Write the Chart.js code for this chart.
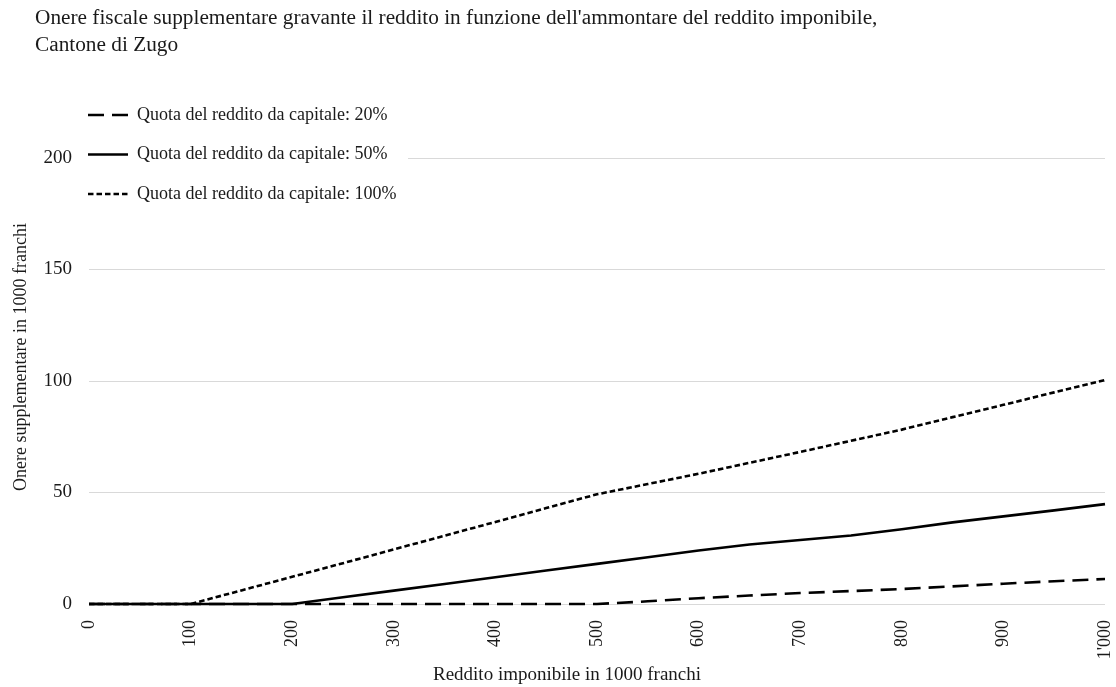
<!DOCTYPE html>
<html>
<head>
<meta charset="utf-8">
<script src="https://cdn.jsdelivr.net/npm/chart.js@4/dist/chart.umd.min.js"></script>
<style>
  html, body { margin: 0; padding: 0; background: #ffffff; }
  #wrap { width: 1116px; height: 687px; }
</style>
</head>
<body>
<div id="wrap"><canvas id="chart" width="1116" height="687"></canvas></div>
<script>
// Texts
const titleLines = [
  "Onere fiscale supplementare gravante il reddito in funzione dell'ammontare del reddito imponibile,",
  "Cantone di Zugo"
];
const xAxisTitle = "Reddito imponibile in 1000 franchi";
const yAxisTitle = "Onere supplementare in 1000 franchi";
const seriesLabels = [
  "Quota del reddito da capitale: 20%",
  "Quota del reddito da capitale: 50%",
  "Quota del reddito da capitale: 100%"
];

// Taxable income (1000 CHF)
const incomes = [0, 50, 100, 150, 200, 250, 300, 350, 400, 450, 500, 550, 600, 650, 700, 750, 800, 850, 900, 950, 1000];
// Additional tax burden (1000 CHF) by share of capital income
const share20  = [0, 0, 0, 0, 0, 0, 0, 0, 0, 0, 0, 1.2, 2.6, 3.8, 4.9, 5.8, 6.7, 7.9, 9.1, 10.2, 11.2];
const share50  = [0, 0, 0, 0, 0, 3, 6, 9, 12, 15, 18, 21, 24, 26.7, 28.7, 30.7, 33.5, 36.6, 39.3, 42, 44.8];
const share100 = [0, 0, 0, 6.1, 12.2, 18.3, 24.5, 30.6, 36.8, 43, 49.2, 53.8, 58.4, 63.3, 68.2, 73.2, 78.2, 83.8, 89.3, 94.9, 100.4];

// Axis ticks
const xTickValues = [0, 100, 200, 300, 400, 500, 600, 700, 800, 900, 1000];
const xTickLabels = ["0", "100", "200", "300", "400", "500", "600", "700", "800", "900", "1'000"];
const yTickValues = [0, 50, 100, 150, 200];

const FONT = "'Liberation Serif', 'Times New Roman', serif";
const INK = "#1a1a1a";

function points(ys) {
  return incomes.map((x, i) => ({ x: x, y: ys[i] }));
}

function lineSet(label, ys, dash) {
  return {
    label: label,
    data: points(ys),
    borderColor: "#000000",
    backgroundColor: "#000000",
    borderWidth: 2.6,
    borderDash: dash,
    pointRadius: 0,
    pointStyle: "line",
    tension: 0,
    fill: false,
    clip: 6
  };
}

// Titles, axis captions and a legend placed over the top-left of the plot
const captions = {
  id: "captions",
  beforeDraw(chart) {
    const lg = chart.legend;
    const pad = lg.options.labels.padding;
    lg.left = 88 - pad;
    lg.right = lg.left + lg.width;
    lg.top = 106 - pad;
    lg.bottom = lg.top + lg.height;
  },
  afterDraw(chart) {
    const ctx = chart.ctx;
    ctx.save();
    // legend backdrop hides the gridline under it
    ctx.fillStyle = "#ffffff";
    ctx.fillRect(84, 98, 324, 114);
    ctx.restore();
    chart.legend.draw();

    ctx.save();
    ctx.fillStyle = INK;
    ctx.textBaseline = "middle";
    ctx.textAlign = "left";
    ctx.font = "21.3px " + FONT;
    ctx.fillText(titleLines[0], 35, 18);
    ctx.fillText(titleLines[1], 35, 45);

    ctx.font = "19px " + FONT;
    ctx.textAlign = "center";
    ctx.fillText(xAxisTitle, 567, 675);

    ctx.font = "18px " + FONT;
    ctx.translate(21, 357);
    ctx.rotate(-Math.PI / 2);
    ctx.fillText(yAxisTitle, 0, 0);
    ctx.restore();
  }
};

new Chart(document.getElementById("chart"), {
  type: "line",
  data: {
    datasets: [
      lineSet(seriesLabels[0], share20, [16, 8]),
      lineSet(seriesLabels[1], share50, []),
      lineSet(seriesLabels[2], share100, [5.5, 3])
    ]
  },
  options: {
    responsive: false,
    animation: false,
    layout: { padding: { top: 158, left: 0, right: 11, bottom: 0 } },
    plugins: {
      title: { display: false },
      tooltip: { enabled: false },
      legend: {
        display: true,
        position: "chartArea",
        align: "start",
        labels: {
          usePointStyle: true,
          pointStyleWidth: 40,
          padding: 21.5,
          color: INK,
          font: { family: FONT, size: 18 },
          generateLabels(chart) {
            return chart.data.datasets.map((ds, i) => ({
              text: ds.label,
              datasetIndex: i,
              hidden: !chart.isDatasetVisible(i),
              fillStyle: ds.borderColor,
              strokeStyle: ds.borderColor,
              lineWidth: ds.borderWidth,
              lineDash: ds.borderDash,
              lineCap: "butt",
              pointStyle: "line",
              fontColor: INK
            }));
          }
        }
      }
    },
    scales: {
      x: {
        type: "linear",
        min: 0,
        max: 1000,
        afterBuildTicks(scale) {
          scale.ticks = xTickValues.map(v => ({ value: v }));
        },
        afterFit(scale) {
          scale.height = 83;
          scale.paddingLeft = 0;
          scale.paddingRight = 0;
        },
        grid: { display: false },
        border: { display: false },
        ticks: {
          minRotation: 90,
          maxRotation: 90,
          padding: 8,
          color: INK,
          font: { family: FONT, size: 18 },
          callback(value) {
            const i = xTickValues.indexOf(value);
            return i >= 0 ? xTickLabels[i] : "";
          }
        }
      },
      y: {
        type: "linear",
        min: 0,
        max: 200,
        afterBuildTicks(scale) {
          scale.ticks = yTickValues.map(v => ({ value: v }));
        },
        afterFit(scale) { scale.width = 89; },
        grid: { color: "#d9d9d9", lineWidth: 1, drawTicks: false },
        border: { display: false },
        ticks: {
          padding: 17,
          color: INK,
          font: { family: FONT, size: 19 }
        }
      }
    }
  },
  plugins: [captions]
});
</script>
</body>
</html>
